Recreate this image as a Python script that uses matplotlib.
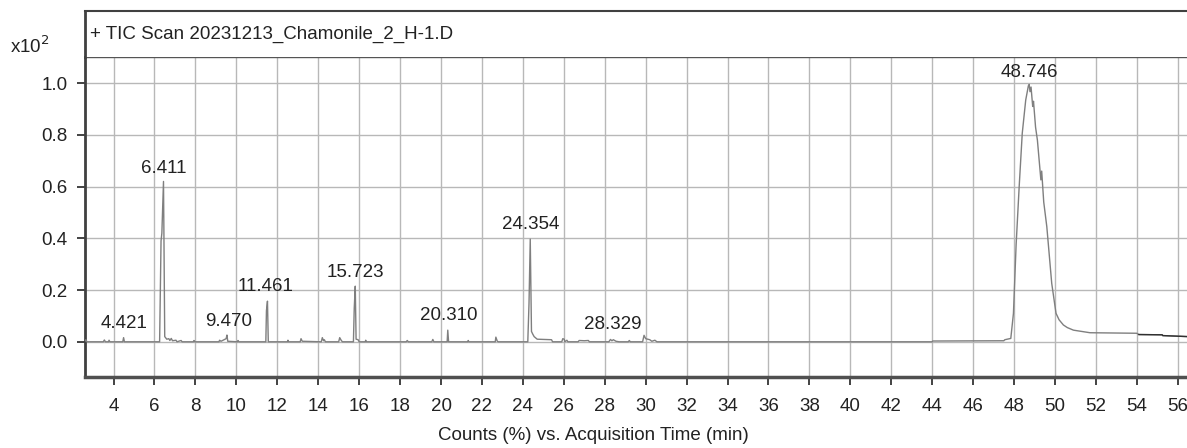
"""TIC chromatogram, Chamomile sample 2 (Agilent-style plot)."""

import matplotlib
matplotlib.use("Agg")
import matplotlib.pyplot as plt
import numpy as np

plt.rcParams["font.family"] = ["Liberation Sans", "DejaVu Sans"]

# retention time (min) and counts (x10^2 %)
time_min = [
    2.58, 2.65, 2.70, 3.50, 3.55, 3.60, 3.75, 3.78, 3.82, 4.45, 4.49, 4.53,
    6.25, 6.32, 6.36, 6.44, 6.50, 6.60, 6.70, 6.75, 6.82, 6.88, 7.05, 7.10,
    7.30, 7.35, 7.90, 7.93, 7.97, 9.15, 9.18, 9.25, 9.40, 9.50, 9.54, 9.58,
    10.05, 10.08, 10.12, 11.44, 11.47, 11.52, 11.56, 12.50, 12.52, 12.55,
    13.12, 13.16, 13.22, 14.15, 14.20, 14.26, 14.30, 14.35, 15.00, 15.05,
    15.12, 15.18, 15.72, 15.76, 15.81, 15.85, 15.95, 16.00, 16.30, 16.32,
    16.35, 18.30, 18.35, 18.40, 19.55, 19.60, 19.65, 20.30, 20.33, 20.37,
    21.30, 21.33, 21.36, 22.65, 22.68, 22.75, 22.80, 24.24, 24.30, 24.36,
    24.42, 24.48, 24.55, 24.70, 25.40, 25.45, 25.90, 25.95, 26.02, 26.05,
    26.15, 26.20, 26.70, 26.75, 27.00, 27.20, 27.25, 28.20, 28.28, 28.35,
    28.42, 28.55, 28.70, 29.15, 29.20, 29.25, 29.85, 29.92, 30.00, 30.20,
    30.30, 30.45, 30.55, 44.00, 44.02, 47.50, 47.55, 47.84, 47.97, 48.10,
    48.25, 48.40, 48.57, 48.65, 48.70, 48.74, 48.78, 48.83, 48.91, 48.95,
    49.05, 49.14, 49.31, 49.35, 49.45, 49.60, 49.84, 50.05, 50.20, 50.41,
    50.60, 50.90, 51.30, 51.71, 53.99, 54.10, 55.24, 55.26, 56.50,
]
counts = [
    0.000, 0.008, 0.000, 0.000, 0.007, 0.000, 0.000, 0.006, 0.000, 0.000, 0.016, 0.000,
    0.000, 0.390, 0.420, 0.620, 0.020, 0.010, 0.012, 0.005, 0.013, 0.004, 0.006, 0.000,
    0.005, 0.000, 0.000, 0.005, 0.000, 0.000, 0.006, 0.002, 0.008, 0.012, 0.026, 0.002,
    0.000, 0.005, 0.000, 0.000, 0.120, 0.157, 0.000, 0.000, 0.006, 0.000,
    0.000, 0.012, 0.002, 0.000, 0.016, 0.004, 0.008, 0.000, 0.000, 0.016,
    0.006, 0.000, 0.000, 0.130, 0.215, 0.010, 0.008, 0.000, 0.000, 0.006,
    0.000, 0.000, 0.005, 0.000, 0.000, 0.009, 0.000, 0.000, 0.045, 0.000,
    0.000, 0.005, 0.000, 0.000, 0.018, 0.002, 0.000, 0.000, 0.150, 0.397,
    0.040, 0.030, 0.020, 0.010, 0.008, 0.000, 0.000, 0.012, 0.010, 0.000,
    0.006, 0.000, 0.000, 0.005, 0.004, 0.005, 0.000, 0.000, 0.009, 0.004,
    0.008, 0.002, 0.000, 0.000, 0.005, 0.000, 0.000, 0.025, 0.012, 0.008,
    0.002, 0.006, 0.000, 0.000, 0.003, 0.004, 0.008, 0.013, 0.110, 0.374,
    0.600, 0.806, 0.935, 0.970, 0.990, 0.995, 0.967, 0.985, 0.910, 0.930,
    0.830, 0.780, 0.626, 0.660, 0.540, 0.445, 0.226, 0.110, 0.085, 0.065,
    0.055, 0.045, 0.040, 0.035, 0.033, 0.028, 0.027, 0.024, 0.020,
]

# labelled peaks: retention time text, label x, label y
peak_labels = ["4.421", "6.411", "9.470", "11.461", "15.723", "20.310", "24.354", "28.329", "48.746"]
label_x = [4.52, 6.44, 9.62, 11.45, 15.81, 20.37, 24.36, 28.38, 48.73]
label_y = [0.071, 0.671, 0.077, 0.213, 0.269, 0.100, 0.452, 0.068, 1.040]

x_ticks = list(range(4, 57, 2))
y_ticks = [0.0, 0.2, 0.4, 0.6, 0.8, 1.0]

FS = 13.5
W, H = 1187, 448
fig = plt.figure(figsize=(W / 100, H / 100), dpi=100)

# main plot area
ax = fig.add_axes([84.5 / W, 1 - 376.7 / H, 1 - 84.5 / W, (376.7 - 57.3) / H])
t = np.array(time_min)
c = np.array(counts)
ax.plot(t, c, color="#7f7f7f", lw=1.0, zorder=3)
tail = t >= 54.0
ax.plot(t[tail], c[tail], color="#303030", lw=1.0, zorder=4)

for txt, lx, ly in zip(peak_labels, label_x, label_y):
    ax.text(lx, ly, txt, ha="center", va="center", fontsize=FS, color="#222222", zorder=5)

ax.set_xlim(2.58, 56.45)
ax.set_ylim(-0.135, 1.10)
ax.set_xticks(x_ticks)
ax.set_yticks(y_ticks)
ax.set_yticklabels([f"{v:.1f}" for v in y_ticks])
ax.grid(True, color="#b8b8b8", lw=1.0)
ax.set_axisbelow(True)
ax.tick_params(axis="both", labelsize=FS, colors="#222222", length=6, width=1.2,
               direction="out")
ax.tick_params(axis="x", pad=9)
ax.tick_params(axis="y", pad=6)
ax.spines["right"].set_visible(False)
ax.spines["top"].set_color("#555555")
ax.spines["top"].set_linewidth(1.0)
ax.spines["left"].set_color("#404040")
ax.spines["left"].set_linewidth(2.0)
ax.spines["bottom"].set_color("#505050")
ax.spines["bottom"].set_linewidth(2.5)

# header strip with the data file name
hdr = fig.add_axes([84.5 / W, 1 - 57.3 / H, 1 - 84.5 / W, (57.3 - 10.7) / H])
hdr.set_xticks([])
hdr.set_yticks([])
hdr.spines["right"].set_visible(False)
hdr.spines["bottom"].set_visible(False)
hdr.spines["top"].set_color("#404040")
hdr.spines["top"].set_linewidth(1.5)
hdr.spines["left"].set_color("#404040")
hdr.spines["left"].set_linewidth(2.0)
hdr.text(5 / (W - 84.5), 0.5, "+ TIC Scan 20231213_Chamonile_2_H-1.D",
         transform=hdr.transAxes, ha="left", va="center", fontsize=FS, color="#222222")

fig.text(10 / W, 1 - 46 / H, r"x10$^{2}$", ha="left", va="center", fontsize=FS, color="#222222")
fig.text(593 / W, 1 - 435 / H, "Counts (%) vs. Acquisition Time (min)",
         ha="center", va="center", fontsize=FS, color="#222222")

fig.savefig("out.png", dpi=100)
